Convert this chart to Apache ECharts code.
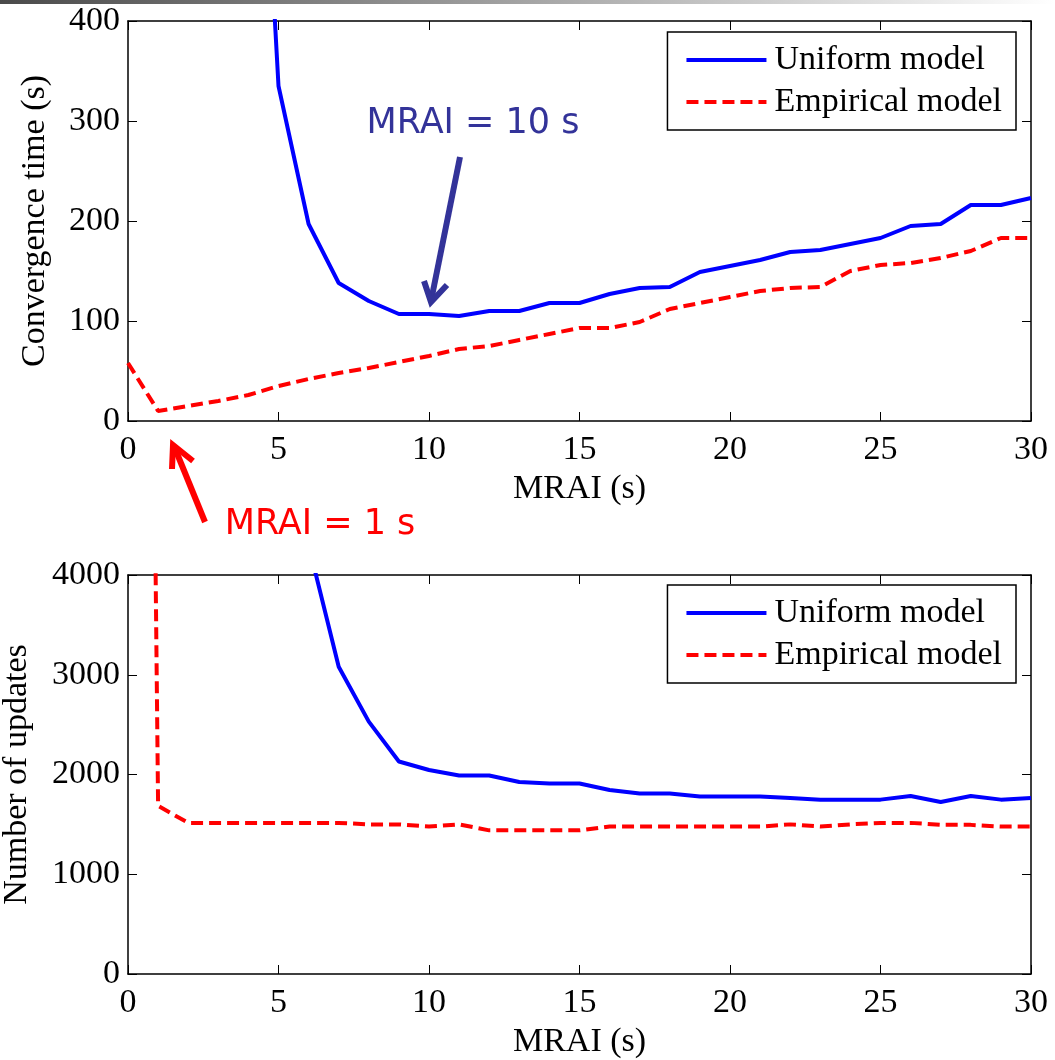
<!DOCTYPE html>
<html>
<head>
<meta charset="utf-8">
<script src="https://cdn.jsdelivr.net/npm/echarts@6/dist/echarts.min.js"></script>
<style>
  html, body { margin: 0; padding: 0; background: #fff; }
  #main { width: 1055px; height: 1060px; }
</style>
</head>
<body>
<div id="main"></div>
<script>
// MRAI values (s)
var mrai = [0, 1, 2, 3, 4, 5, 6, 7, 8, 9, 10, 11, 12, 13, 14, 15, 16, 17, 18, 19, 20, 21, 22, 23, 24, 25, 26, 27, 28, 29, 30];
// convergence time (s)
var timeUniform = [null, 4000, 2000, 1300, 880, 335, 197, 138, 120, 107, 107, 105, 110, 110, 118, 118, 127, 133, 134, 149, 155, 161, 169, 171, 177, 183, 195, 197, 216, 216, 223];
var timeEmpirical = [58, 10, 15, 20, 26, 35, 42, 48, 53, 59, 65, 72, 75, 81, 87, 93, 93, 99, 112, 118, 124, 130, 133, 134, 150, 156, 158, 163, 170, 183, 183];
// number of updates
var updUniform = [null, 20000, 12000, 8500, 6500, 5200, 4300, 3080, 2530, 2130, 2045, 1990, 1990, 1925, 1910, 1910, 1845, 1810, 1810, 1780, 1780, 1780, 1765, 1748, 1748, 1748, 1785, 1725, 1785, 1748, 1765];
var updEmpirical = [30000, 1685, 1515, 1515, 1515, 1515, 1515, 1515, 1500, 1500, 1478, 1500, 1440, 1440, 1440, 1440, 1478, 1478, 1478, 1478, 1478, 1478, 1500, 1478, 1500, 1515, 1515, 1495, 1495, 1478, 1478];
var xTicks = { min: 0, max: 30, interval: 5 };
var names = ['Uniform model', 'Empirical model'];

var serif = 'Liberation Serif';
var sans = 'DejaVu Sans';

function pairs(ys) {
  return mrai.map(function (x, i) { return [x, ys[i]]; });
}

function xAxis(grid, pos) {
  return {
    type: 'value', gridIndex: grid, position: pos,
    min: xTicks.min, max: xTicks.max, interval: xTicks.interval,
    name: pos === 'bottom' ? 'MRAI (s)' : '',
    nameLocation: 'middle', nameGap: 51,
    nameTextStyle: { fontFamily: serif, fontSize: 34, color: '#000' },
    axisLine: { show: true, onZero: false, lineStyle: { color: '#000', width: 1.5 } },
    axisTick: { show: true, inside: true, length: 9, lineStyle: { color: '#000', width: 1 } },
    axisLabel: { show: pos === 'bottom', fontFamily: serif, fontSize: 34, color: '#000', margin: 12 },
    splitLine: { show: false }
  };
}

function yAxis(grid, pos, max, step, name, gap) {
  return {
    type: 'value', gridIndex: grid, position: pos,
    min: 0, max: max, interval: step,
    name: pos === 'left' ? name : '',
    nameLocation: 'middle', nameGap: gap, nameRotate: 90,
    nameTextStyle: { fontFamily: serif, fontSize: 34, color: '#000' },
    axisLine: { show: true, onZero: false, lineStyle: { color: '#000', width: 1.5 } },
    axisTick: { show: true, inside: true, length: 9, lineStyle: { color: '#000', width: 1 } },
    axisLabel: {
      show: pos === 'left', fontFamily: serif, fontSize: 34, color: '#000', margin: 8,
      formatter: function (v) { return String(v); }
    },
    splitLine: { show: false }
  };
}

function legend(top) {
  return {
    data: names, orient: 'vertical', right: 39, top: top,
    backgroundColor: '#fff', borderColor: '#000', borderWidth: 1.5, borderRadius: 0,
    padding: [11, 14, 11, 17], itemWidth: 80, itemHeight: 14, itemGap: 8,
    itemStyle: { opacity: 0 },
    lineStyle: { width: 4 },
    textStyle: { fontFamily: serif, fontSize: 34, color: '#000', padding: [0, 0, 0, 3] },
    selectedMode: false
  };
}

var blueLine = { color: '#0000ff', width: 4 };
var redLine = { color: '#ff0000', width: 4, type: [12, 6] };

function line(name, data, xi, yi, style) {
  return {
    name: name, type: 'line', xAxisIndex: xi, yAxisIndex: yi,
    data: pairs(data), symbol: 'none', clip: true,
    lineStyle: style, itemStyle: { color: style.color },
    emphasis: { disabled: true }
  };
}

var chart = echarts.init(document.getElementById('main'));
chart.setOption({
  backgroundColor: '#fff',
  animation: false,
  grid: [
    { left: 128, right: 24, top: 21, height: 400, outerBoundsMode: 'none', containLabel: false },
    { left: 128, right: 24, top: 575, height: 399, outerBoundsMode: 'none', containLabel: false }
  ],
  xAxis: [xAxis(0, 'bottom'), xAxis(0, 'top'), xAxis(1, 'bottom'), xAxis(1, 'top')],
  yAxis: [
    yAxis(0, 'left', 400, 100, 'Convergence time (s)', 76),
    yAxis(0, 'right', 400, 100, '', 0),
    yAxis(1, 'left', 4000, 1000, 'Number of updates', 94),
    yAxis(1, 'right', 4000, 1000, '', 0)
  ],
  legend: [legend(32), legend(585)],
  series: [
    line(names[0], timeUniform, 0, 0, blueLine),
    line(names[1], timeEmpirical, 0, 0, redLine),
    line(names[0], updUniform, 2, 2, blueLine),
    line(names[1], updEmpirical, 2, 2, redLine)
  ],
  graphic: [
    {
      type: 'rect', left: 0, top: 0, shape: { width: 1055, height: 4 },
      style: { fill: new echarts.graphic.LinearGradient(0, 0, 1, 0, [
        { offset: 0, color: '#4a4a4a' }, { offset: 1, color: '#ffffff' }
      ]) }, silent: true
    },
    {
      type: 'text', x: 473, y: 124,
      style: { text: 'MRAI = 10 s', fontFamily: sans, fontSize: 35, fill: '#333399',
        align: 'center', verticalAlign: 'middle' }
    },
    {
      type: 'polyline', shape: { points: [[460, 157], [431, 301]] },
      style: { stroke: '#333399', lineWidth: 6, fill: null }
    },
    {
      type: 'polyline', shape: { points: [[424, 281], [431, 302], [447, 285]] },
      style: { stroke: '#333399', lineWidth: 6, fill: null, lineJoin: 'miter' }
    },
    {
      type: 'text', x: 320, y: 525,
      style: { text: 'MRAI = 1 s', fontFamily: sans, fontSize: 35, fill: '#ff0000',
        align: 'center', verticalAlign: 'middle' }
    },
    {
      type: 'polyline', shape: { points: [[205, 522], [174, 446]] },
      style: { stroke: '#ff0000', lineWidth: 6, fill: null }
    },
    {
      type: 'polyline', shape: { points: [[172, 469], [173, 445], [193, 461]] },
      style: { stroke: '#ff0000', lineWidth: 6, fill: null, lineJoin: 'miter' }
    }
  ]
});
</script>
</body>
</html>
